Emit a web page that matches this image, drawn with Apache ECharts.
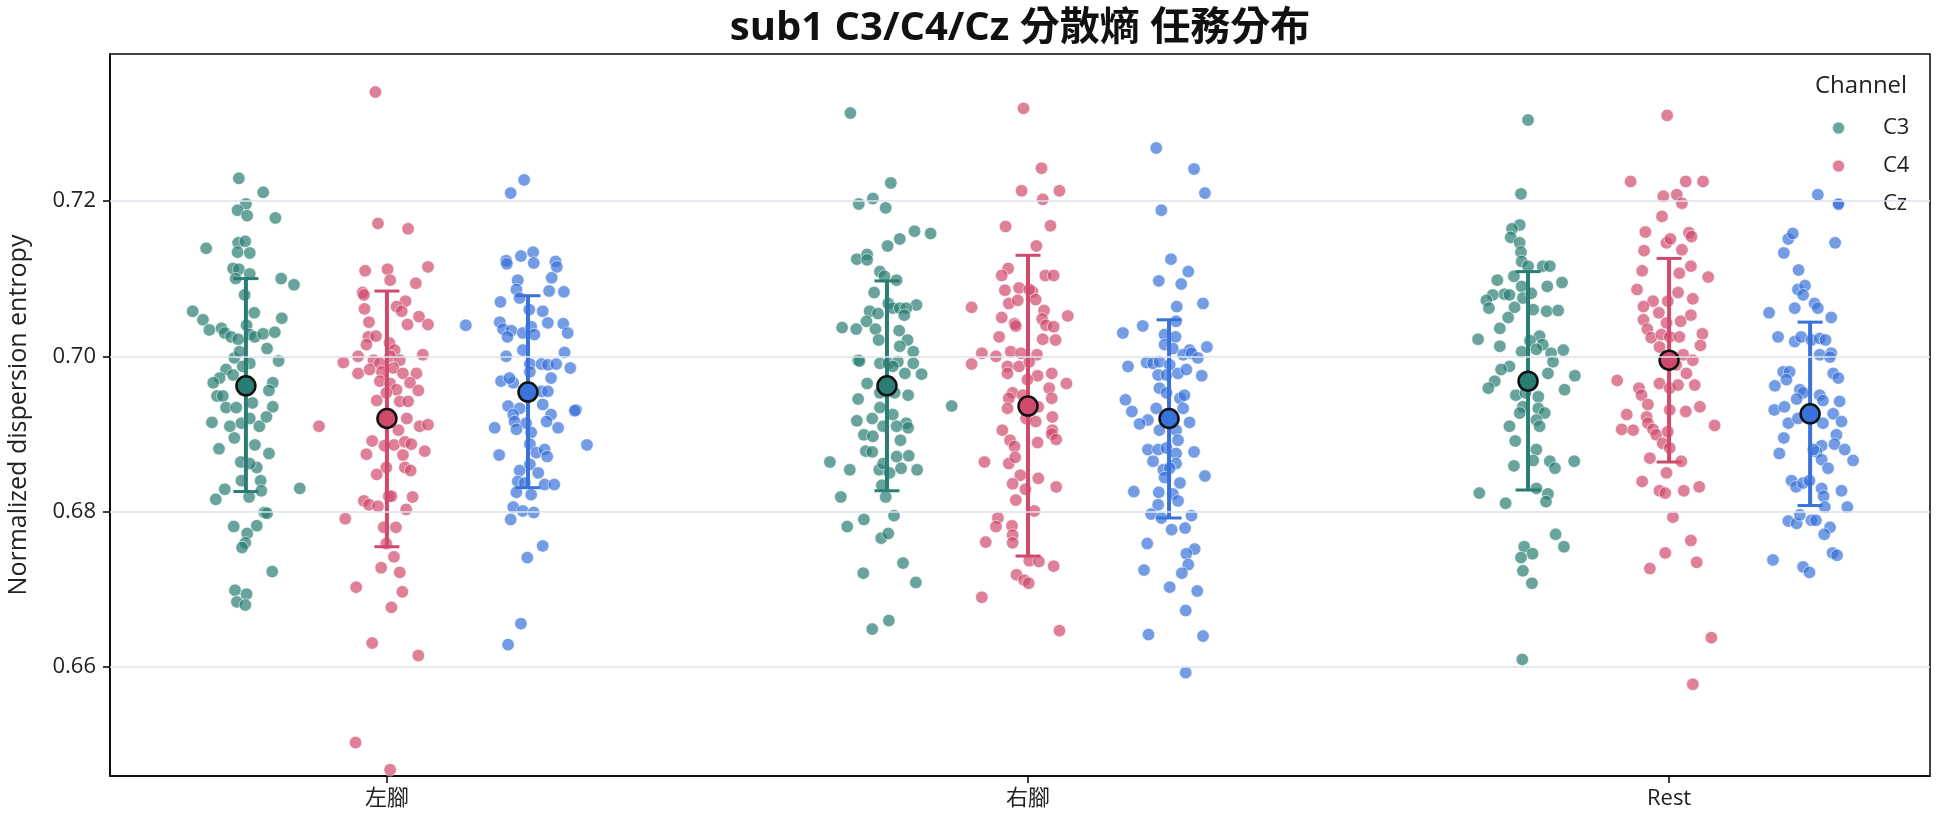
<!DOCTYPE html>
<html>
<head>
<meta charset="utf-8">
<script src="https://cdn.jsdelivr.net/npm/echarts@6/dist/echarts.min.js"></script>
<style>html,body{margin:0;padding:0;background:#fff;}#main{width:1944px;height:827px;}</style>
</head>
<body>
<div id="main"></div>
<script>
const categories = ['左腳', '右腳', 'Rest'];
const channels = ['C3', 'C4', 'Cz'];
const yTicks = [0.66, 0.68, 0.70, 0.72];

// group means and error-bar ends (mean ± SD) per category
const meanC3 = [0.6962, 0.6962, 0.6968];
const meanC4 = [0.6920, 0.6936, 0.6995];
const meanCz = [0.6954, 0.6920, 0.6926];
const lowC3 = [0.6826, 0.6827, 0.6828];
const lowC4 = [0.6755, 0.6743, 0.6864];
const lowCz = [0.6831, 0.6792, 0.6808];
const highC3 = [0.7100, 0.7097, 0.7109];
const highC4 = [0.7084, 0.7130, 0.7126];
const highCz = [0.7078, 0.7047, 0.7044];

// individual points: [jitter, value]
const leftC3 = [[-0.011,0.7229],[0.027,0.7211],[0,0.7196],[-0.013,0.7188],[0.002,0.7181],[0.046,0.7178],[-0.062,0.7139],[-0.012,0.7146],[-0.001,0.7148],[-0.013,0.7134],[0.006,0.7133],[-0.020,0.7113],[-0.011,0.7112],[0.006,0.7106],[-0.016,0.7100],[0.055,0.7100],[0.075,0.7092],[-0.002,0.7079],[-0.083,0.7058],[-0.067,0.7047],[0.013,0.7056],[0.056,0.7049],[-0.057,0.7034],[-0.038,0.7036],[-0.033,0.7030],[-0.023,0.7025],[-0.012,0.7022],[0.001,0.7040],[0.006,0.7028],[0.014,0.7025],[0.027,0.7029],[0.045,0.7031],[0.033,0.7010],[-0.018,0.6998],[0.006,0.6991],[0.051,0.6994],[-0.031,0.6983],[-0.041,0.6972],[-0.020,0.6976],[-0.051,0.6966],[0.042,0.6966],[0.036,0.6956],[-0.045,0.6949],[-0.036,0.6949],[0.042,0.6935],[-0.031,0.6934],[-0.015,0.6934],[0.010,0.6940],[-0.053,0.6915],[-0.025,0.6910],[-0.007,0.6914],[0.006,0.6920],[0.021,0.6910],[0.032,0.6922],[-0.005,0.6987],[-0.010,0.7006],
[-0.018,0.6895],[0.014,0.6886],[-0.042,0.6881],[0.036,0.6875],[-0.008,0.6864],[0.017,0.6857],[0.006,0.6862],[-0.007,0.6840],[0.023,0.6840],[0.024,0.6827],[-0.033,0.6829],[-0.047,0.6816],[0.005,0.6819],[0.084,0.6830],[0.029,0.6799],[0.033,0.6798],[-0.019,0.6781],[0.017,0.6782],[0.002,0.6772],[-0.001,0.6760],[-0.006,0.6754],[0.041,0.6723],[-0.017,0.6699],[0.001,0.6694],[-0.014,0.6684],[-0.001,0.6680]];
const leftC4 = [[-0.018,0.7340],[-0.014,0.7171],[0.033,0.7164],[-0.034,0.7110],[0.001,0.7112],[0.005,0.7098],[0.064,0.7115],[0.045,0.7094],[-0.038,0.7082],[-0.036,0.7079],[0.029,0.7071],[0.015,0.7064],[0.023,0.7058],[-0.035,0.7061],[-0.028,0.7044],[0.050,0.7051],[0.032,0.7041],[0.064,0.7041],[-0.029,0.7025],[-0.017,0.7026],[-0.032,0.7015],[0.004,0.7017],[0.012,0.7008],[-0.045,0.7000],[-0.068,0.6992],[-0.021,0.6995],[-0.011,0.6991],[0.005,0.7000],[0.020,0.6995],[0.056,0.7002],[-0.045,0.6978],[-0.027,0.6983],[-0.008,0.6980],[0.010,0.6985],[0.025,0.6978],[0.046,0.6978],[-0.011,0.6968],[0.005,0.6965],[0.036,0.6966],[0.015,0.6957],[0.049,0.6956],[-0.001,0.6953],[-0.016,0.6943],[0.020,0.6942],[0.033,0.6942],[-0.106,0.6910],[0.031,0.6920],[0.051,0.6910],[0.064,0.6912],
[0.018,0.6905],[-0.023,0.6891],[-0.004,0.6885],[0.011,0.6886],[0.028,0.6890],[0.038,0.6887],[-0.032,0.6874],[0.025,0.6873],[0.059,0.6878],[-0.001,0.6857],[0.028,0.6857],[0.037,0.6853],[-0.016,0.6848],[0.003,0.6820],[-0.036,0.6814],[-0.028,0.6809],[-0.014,0.6807],[0.007,0.6820],[0.040,0.6819],[0.030,0.6803],[-0.065,0.6791],[-0.005,0.6780],[0.014,0.6780],[-0.001,0.6759],[0.011,0.6742],[-0.009,0.6728],[0.020,0.6722],[-0.048,0.6703],[0.024,0.6697],[0.007,0.6677],[-0.023,0.6631],[0.049,0.6615],[-0.049,0.6503],[0.005,0.6468]];
const leftCz = [[-0.006,0.7227],[-0.027,0.7210],[-0.011,0.7129],[0.008,0.7134],[0.009,0.7120],[-0.034,0.7123],[-0.033,0.7119],[0.043,0.7122],[0.045,0.7115],[-0.016,0.7098],[0.037,0.7101],[-0.018,0.7086],[0.033,0.7084],[0.056,0.7083],[-0.043,0.7070],[-0.013,0.7075],[0.002,0.7060],[0.023,0.7058],[-0.044,0.7044],[-0.039,0.7035],[-0.026,0.7033],[-0.008,0.7030],[0.005,0.7038],[0.010,0.7028],[0.031,0.7043],[0.055,0.7042],[0.062,0.7030],[-0.032,0.7025],[-0.097,0.7040],[-0.008,0.7008],[-0.034,0.7000],[0.057,0.7005],[0.003,0.6990],[0.021,0.6990],[0.031,0.6989],[0.044,0.6990],[0.066,0.6985],[0.003,0.6980],[0.036,0.6972],[-0.042,0.6968],[-0.023,0.6966],[-0.029,0.6972],[0.021,0.6955],[0.031,0.6955],[-0.031,0.6936],[-0.013,0.6933],[0.023,0.6938],[0.075,0.6931],[0.073,0.6930],[-0.023,0.6925],[0.036,0.6925],[-0.021,0.6916],[-0.052,0.6908],[0.029,0.6916],[0.047,0.6908],[-0.003,0.6914],
[-0.018,0.6906],[0.005,0.6902],[0.092,0.6886],[-0.045,0.6873],[0.003,0.6887],[0.013,0.6876],[0.026,0.6880],[0.030,0.6871],[-0.013,0.6853],[0.003,0.6861],[0.016,0.6850],[-0.016,0.6839],[-0.005,0.6837],[0.026,0.6835],[0.041,0.6835],[-0.018,0.6825],[0.005,0.6822],[-0.023,0.6806],[-0.008,0.6801],[0.009,0.6799],[-0.027,0.6790],[0.023,0.6756],[-0.001,0.6741],[-0.011,0.6656],[-0.031,0.6629]];
const rightC3 = [[-0.057,0.7313],[0.006,0.7223],[-0.044,0.7196],[-0.022,0.7203],[-0.002,0.7191],[0.043,0.7161],[0.068,0.7158],[0.020,0.7151],[0.001,0.7142],[-0.047,0.7125],[-0.031,0.7131],[-0.031,0.7124],[-0.011,0.7109],[-0.004,0.7103],[0.015,0.7098],[-0.020,0.7082],[0.046,0.7066],[-0.027,0.7058],[-0.014,0.7055],[0.002,0.7068],[0.009,0.7062],[0.020,0.7062],[0.030,0.7062],[0.027,0.7053],[-0.070,0.7037],[-0.048,0.7035],[-0.032,0.7045],[-0.018,0.7035],[0.019,0.7033],[-0.013,0.7021],[0.032,0.7021],[0.020,0.7013],[0.041,0.7006],[-0.045,0.6995],[-0.043,0.6994],[-0.011,0.6991],[0.002,0.6991],[0.017,0.6993],[0.041,0.6991],[0.009,0.6987],[0.028,0.6978],[0.054,0.6977],[-0.031,0.6965],[-0.011,0.6953],[0.012,0.6953],[0.033,0.6950],[-0.045,0.6945],[0.101,0.6936],[-0.011,0.6934],[0.009,0.6925],[-0.047,0.6917],[-0.023,0.6920],[0.030,0.6914],[-0.006,0.6910],[0.015,0.6910],[0.033,0.6908],
[-0.036,0.6899],[-0.022,0.6897],[0.021,0.6892],[-0.033,0.6878],[-0.023,0.6877],[0.015,0.6871],[0.034,0.6872],[-0.089,0.6864],[-0.058,0.6854],[-0.012,0.6854],[-0.006,0.6862],[0.004,0.6850],[0.022,0.6856],[0.047,0.6854],[-0.008,0.6834],[-0.072,0.6819],[-0.002,0.6819],[0.011,0.6795],[-0.036,0.6790],[-0.062,0.6781],[-0.009,0.6766],[0.002,0.6772],[0.025,0.6734],[-0.037,0.6721],[0.045,0.6709],[0.003,0.6660],[-0.023,0.6649]];
const rightC4 = [[-0.007,0.7319],[0.021,0.7242],[-0.010,0.7213],[0.049,0.7213],[0.023,0.7202],[-0.035,0.7167],[0.035,0.7168],[0.013,0.7142],[-0.031,0.7113],[-0.041,0.7104],[0.027,0.7104],[0.040,0.7104],[-0.036,0.7085],[-0.014,0.7088],[0.007,0.7083],[0.002,0.7086],[-0.030,0.7068],[-0.016,0.7072],[0.012,0.7073],[-0.088,0.7063],[-0.041,0.7050],[0.025,0.7059],[0.022,0.7048],[-0.021,0.7042],[-0.019,0.7039],[0.028,0.7040],[0.040,0.7038],[0.062,0.7052],[-0.045,0.7025],[0.023,0.7022],[0.043,0.7021],[-0.072,0.7004],[-0.050,0.7000],[-0.027,0.7006],[-0.011,0.7004],[0.014,0.7002],[-0.088,0.6990],[-0.032,0.6987],[-0.014,0.6987],[0.002,0.6993],[-0.032,0.6978],[0.015,0.6975],[0.037,0.6978],[-0.001,0.6970],[0.060,0.6965],[0.033,0.6959],[-0.024,0.6953],[-0.030,0.6946],[-0.008,0.6950],[0.037,0.6946],[-0.032,0.6933],[0.016,0.6935],[0.038,0.6922],[-0.003,0.6920],[0.012,0.6916],[-0.040,0.6905],[0.038,0.6905],
[-0.028,0.6892],[-0.021,0.6884],[0.015,0.6889],[0.037,0.6900],[0.044,0.6893],[-0.068,0.6864],[-0.030,0.6862],[-0.020,0.6870],[-0.012,0.6847],[0.016,0.6843],[0.044,0.6832],[-0.024,0.6836],[-0.004,0.6829],[-0.019,0.6815],[0.010,0.6801],[-0.047,0.6792],[-0.050,0.6781],[-0.025,0.6782],[-0.024,0.6770],[-0.024,0.6760],[-0.066,0.6761],[0.002,0.6737],[0.017,0.6736],[0.040,0.6730],[-0.018,0.6719],[-0.006,0.6712],[0.001,0.6708],[-0.072,0.6690],[0.049,0.6647]];
const rightCz = [[-0.020,0.7268],[0.039,0.7241],[0.056,0.7210],[-0.012,0.7188],[0.003,0.7125],[0.030,0.7109],[-0.016,0.7097],[0.019,0.7093],[0.012,0.7064],[0.053,0.7068],[0.011,0.7045],[-0.072,0.7030],[-0.041,0.7039],[-0.007,0.7028],[0.010,0.7025],[-0.007,0.7015],[0.006,0.7010],[0.032,0.7008],[0.059,0.7012],[0.022,0.7002],[0.035,0.7004],[0.045,0.6998],[-0.064,0.6987],[-0.035,0.6992],[-0.025,0.6991],[-0.015,0.6993],[0.001,0.6989],[-0.017,0.6976],[-0.004,0.6976],[0.014,0.6978],[0.027,0.6983],[0.051,0.6975],[-0.015,0.6959],[-0.004,0.6953],[0.017,0.6946],[0.024,0.6950],[-0.068,0.6944],[0.022,0.6933],[-0.058,0.6929],[-0.020,0.6933],[-0.033,0.6918],[-0.046,0.6913],[0.032,0.6915],[-0.015,0.6905],[0.011,0.6905],
[0.014,0.6892],[-0.033,0.6880],[-0.017,0.6880],[-0.004,0.6882],[0.011,0.6875],[0.039,0.6877],[-0.025,0.6865],[-0.009,0.6854],[0.011,0.6862],[0.001,0.6856],[0.056,0.6846],[-0.007,0.6844],[0.017,0.6837],[-0.055,0.6826],[-0.016,0.6825],[0.006,0.6823],[0.014,0.6814],[-0.017,0.6809],[-0.028,0.6797],[-0.012,0.6792],[0.035,0.6795],[0.004,0.6777],[0.025,0.6779],[-0.034,0.6759],[0.040,0.6752],[0.027,0.6746],[0.030,0.6732],[-0.039,0.6725],[0.020,0.6721],[0.001,0.6703],[0.044,0.6698],[0.026,0.6673],[-0.032,0.6642],[0.053,0.6640],[0.026,0.6593]];
const restC3 = [[0,0.7304],[-0.011,0.7209],[-0.013,0.7169],[-0.025,0.7164],[-0.027,0.7153],[-0.013,0.7146],[-0.011,0.7134],[-0.010,0.7122],[0,0.7116],[0.023,0.7116],[0.034,0.7116],[-0.022,0.7103],[-0.048,0.7098],[0.053,0.7095],[0.030,0.7090],[-0.010,0.7090],[-0.037,0.7080],[-0.029,0.7079],[-0.055,0.7079],[-0.065,0.7072],[-0.061,0.7062],[-0.021,0.7063],[-0.008,0.7075],[0.005,0.7081],[0.008,0.7060],[0.029,0.7058],[0.047,0.7059],[-0.031,0.7050],[-0.044,0.7036],[-0.078,0.7022],[-0.044,0.7013],[0.018,0.7026],[0.003,0.7020],[0.023,0.7015],[-0.010,0.7006],[0.013,0.7009],[0.036,0.7004],[0.055,0.7008],[0.039,0.6993],[-0.029,0.6987],[-0.042,0.6983],[0.031,0.6978],[0.073,0.6975],[-0.052,0.6968],[-0.062,0.6959],[0.057,0.6957],[-0.019,0.6950],[-0.004,0.6953],[0.016,0.6948],[-0.008,0.6935],[0.016,0.6933],[0.026,0.6927],[-0.013,0.6927],[-0.029,0.6910],[0.013,0.6918],[0.018,0.6910],
[-0.020,0.6891],[0.013,0.6880],[0.008,0.6866],[-0.022,0.6859],[0.034,0.6865],[0.042,0.6856],[0.072,0.6865],[0.013,0.6830],[-0.076,0.6824],[-0.035,0.6811],[0.031,0.6823],[0.028,0.6813],[0.043,0.6771],[-0.006,0.6755],[0.007,0.6746],[0.056,0.6755],[-0.011,0.6741],[-0.008,0.6724],[0.006,0.6708],[-0.009,0.6610]];
const restC4 = [[-0.003,0.7310],[-0.060,0.7225],[0.026,0.7225],[0.053,0.7225],[-0.009,0.7206],[0.012,0.7208],[0.020,0.7197],[-0.011,0.7180],[-0.037,0.7160],[0.031,0.7159],[0.035,0.7154],[-0.004,0.7146],[0.002,0.7151],[-0.039,0.7136],[0.020,0.7137],[-0.042,0.7110],[0.016,0.7107],[0.034,0.7116],[0.061,0.7102],[-0.050,0.7086],[0.014,0.7082],[-0.025,0.7071],[-0.040,0.7064],[-0.002,0.7071],[0.037,0.7074],[-0.016,0.7056],[0.034,0.7053],[-0.040,0.7047],[0.018,0.7045],[-0.034,0.7035],[-0.004,0.7043],[-0.028,0.7024],[-0.012,0.7028],[0.001,0.7025],[0.016,0.7025],[0.052,0.7029],[0.049,0.7014],[-0.015,0.7012],[0.022,0.7002],[0.037,0.6995],[0.011,0.6989],[0.027,0.6978],[-0.081,0.6969],[-0.015,0.6965],[0.001,0.6959],[0.014,0.6963],[0.040,0.6963],[-0.047,0.6959],[-0.043,0.6950],[-0.033,0.6938],[0.048,0.6935],[0.026,0.6929],[0.001,0.6931],[-0.066,0.6925],[-0.035,0.6922],[-0.033,0.6914],[-0.074,0.6906],[-0.056,0.6905],[-0.025,0.6906],[0.071,0.6911],
[-0.020,0.6899],[-0.002,0.6903],[-0.010,0.6888],[0.001,0.6882],[0.019,0.6865],[-0.030,0.6869],[-0.004,0.6850],[-0.042,0.6839],[-0.015,0.6827],[-0.006,0.6824],[0.023,0.6827],[0.047,0.6832],[0.006,0.6793],[0.034,0.6763],[-0.006,0.6747],[0.043,0.6735],[-0.030,0.6727],[0.066,0.6638],[0.037,0.6578]];
const restCz = [[0.012,0.7208],[0.044,0.7195],[-0.034,0.7151],[-0.027,0.7158],[0.039,0.7146],[-0.041,0.7133],[-0.018,0.7111],[-0.019,0.7086],[-0.008,0.7091],[-0.011,0.7079],[0.007,0.7068],[0.012,0.7062],[-0.024,0.7062],[-0.064,0.7056],[0.033,0.7050],[-0.050,0.7025],[-0.024,0.7019],[-0.014,0.7025],[0.002,0.7021],[0.015,0.7023],[0.024,0.7021],[0.033,0.7004],[0.015,0.7002],[0.031,0.6999],[-0.042,0.6980],[-0.032,0.6980],[-0.037,0.6970],[0.036,0.6978],[0.044,0.6972],[-0.055,0.6962],[-0.016,0.6957],[-0.011,0.6953],[0.015,0.6950],[0.020,0.6943],[-0.021,0.6945],[0.046,0.6942],[-0.056,0.6931],[-0.040,0.6935],[-0.034,0.6914],[-0.019,0.6920],[0.036,0.6926],[0.049,0.6916],[0.020,0.6914],
[-0.041,0.6895],[-0.048,0.6875],[0.041,0.6899],[0.038,0.6887],[0.054,0.6880],[0.067,0.6866],[0.018,0.6885],[0.010,0.6877],[0.018,0.6867],[0.028,0.6856],[0.005,0.6880],[-0.029,0.6840],[-0.022,0.6832],[-0.011,0.6837],[-0.001,0.6840],[0.018,0.6830],[0.021,0.6820],[0.049,0.6827],[0.058,0.6806],[0.023,0.6806],[-0.034,0.6788],[-0.021,0.6785],[-0.016,0.6796],[0.002,0.6789],[0.009,0.6789],[0.031,0.6780],[0.022,0.6771],[-0.058,0.6738],[-0.011,0.6729],[-0.001,0.6722],[0.035,0.6747],[0.042,0.6744]];

const pointsBy = {
  C3: [leftC3, rightC3, restC3],
  C4: [leftC4, rightC4, restC4],
  Cz: [leftCz, rightCz, restCz]
};
const meansBy = { C3: meanC3, C4: meanC4, Cz: meanCz };
const lowBy = { C3: lowC3, C4: lowC4, Cz: lowCz };
const highBy = { C3: highC3, C4: highC4, Cz: highCz };

const colors = { C3: '#2a7d72', C4: '#cf4a6c', Cz: '#3872da' };
const dodge = { C3: -0.22, C4: 0, Cz: 0.22 };
const FONT = "'Open Sans', 'Noto Sans CJK TC', sans-serif";

function renderErr(params, api) {
  const x = api.value(0), lo = api.value(1), hi = api.value(2);
  const t = api.coord([x, hi]), b = api.coord([x, lo]);
  const col = api.visual('color');
  const cap = 12.5;
  return {
    type: 'group',
    children: [
      { type: 'line', shape: { x1: t[0], y1: t[1], x2: b[0], y2: b[1] }, style: { stroke: col, lineWidth: 4 } },
      { type: 'line', shape: { x1: t[0] - cap, y1: t[1], x2: t[0] + cap, y2: t[1] }, style: { stroke: col, lineWidth: 3 } },
      { type: 'line', shape: { x1: b[0] - cap, y1: b[1], x2: b[0] + cap, y2: b[1] }, style: { stroke: col, lineWidth: 3 } }
    ]
  };
}

const series = [{
  type: 'line', data: [], silent: true, z: 1,
  markLine: {
    silent: true, symbol: ['none', 'none'], label: { show: false },
    lineStyle: { color: '#dce3eb', width: 1.5, type: 'solid' },
    data: yTicks.map(v => ({ yAxis: v }))
  }
}];

channels.forEach(ch => {
  const pts = [];
  pointsBy[ch].forEach((arr, i) => arr.forEach(p => pts.push([i + dodge[ch] + p[0], p[1]])));
  series.push({
    name: ch, type: 'scatter', data: pts, symbolSize: 12.5, z: 2,
    itemStyle: { color: colors[ch], opacity: 0.7, borderColor: '#ffffff', borderWidth: 0.8 }
  });
});
channels.forEach(ch => {
  series.push({
    name: ch + ' sd', type: 'custom', renderItem: renderErr, z: 3,
    encode: { x: 0, y: [1, 2] },
    itemStyle: { color: colors[ch] },
    data: categories.map((c, i) => [i + dodge[ch], lowBy[ch][i], highBy[ch][i]])
  });
});
channels.forEach(ch => {
  series.push({
    name: ch + ' mean', type: 'scatter', symbolSize: 19, z: 4,
    itemStyle: { color: colors[ch], opacity: 1, borderColor: '#111', borderWidth: 2.5 },
    data: categories.map((c, i) => [i + dodge[ch], meansBy[ch][i]])
  });
});

const chart = echarts.init(document.getElementById('main'), null, { renderer: 'canvas' });
chart.setOption({
  animation: false,
  backgroundColor: '#ffffff',
  textStyle: { fontFamily: FONT },
  title: [
    { text: 'sub1 C3/C4/Cz 分散熵 任務分布', left: 1020, textAlign: 'center', top: 9, padding: 0,
      textStyle: { fontSize: 40, fontWeight: 'bold', color: '#111', fontFamily: FONT } },
    { text: 'Channel', left: 1815, top: 74, padding: 0,
      textStyle: { fontSize: 24, fontWeight: 'normal', color: '#222', fontFamily: FONT } }
  ],
  legend: {
    data: channels, orient: 'vertical', left: 1831, top: 116, padding: 0,
    itemWidth: 13, itemHeight: 13, itemGap: 14, icon: 'circle',
    textStyle: { fontSize: 22, color: '#222', padding: [0, 0, 0, 33], lineHeight: 24, fontFamily: FONT }
  },
  grid: { left: 110, right: 14, top: 54, bottom: 51, show: true, borderColor: '#000', borderWidth: 1.5, outerBoundsMode: 'none', containLabel: false },
  xAxis: {
    type: 'value', min: -0.432, max: 2.407,
    axisLine: { onZero: false, lineStyle: { color: '#000', width: 1.5 } },
    axisTick: { customValues: [0, 1, 2], length: 7, lineStyle: { color: '#000', width: 1.5 } },
    axisLabel: { customValues: [0, 1, 2], formatter: v => categories[Math.round(v)], fontSize: 22, color: '#222', margin: 12, fontFamily: FONT },
    splitLine: { show: false }
  },
  yAxis: {
    type: 'value', min: 0.646, max: 0.7389,
    name: 'Normalized dispersion entropy', nameLocation: 'middle', nameGap: 79,
    nameTextStyle: { fontSize: 25, color: '#222', fontFamily: FONT },
    axisLine: { show: true, onZero: false, lineStyle: { color: '#000', width: 1.5 } },
    axisTick: { show: true, customValues: yTicks, length: 7, lineStyle: { color: '#000', width: 1.5 } },
    axisLabel: { customValues: yTicks, formatter: v => v.toFixed(2), fontSize: 22, color: '#222', margin: 14, fontFamily: FONT },
    splitLine: { show: false }
  },
  series: series
});
</script>
</body>
</html>
